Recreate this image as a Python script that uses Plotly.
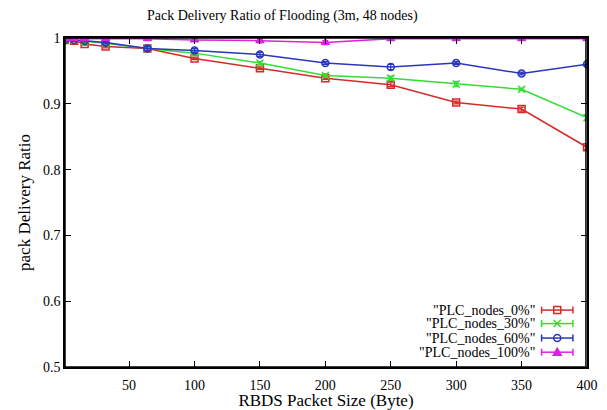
import plotly.graph_objects as go

x = [1, 8, 16, 32, 64, 100, 150, 200, 250, 300, 350, 400]
names = ['"PLC_nodes_0%"', '"PLC_nodes_30%"', '"PLC_nodes_60%"', '"PLC_nodes_100%"']
y0 = [0.997, 0.996, 0.991, 0.987, 0.984, 0.969, 0.954, 0.939, 0.929, 0.902, 0.892, 0.834]
y30 = [0.996, 0.997, 0.995, 0.992, 0.984, 0.977, 0.962, 0.943, 0.939, 0.930, 0.922, 0.879]
y60 = [0.997, 0.997, 0.996, 0.993, 0.984, 0.981, 0.975, 0.962, 0.956, 0.962, 0.946, 0.960]
y100 = [0.999, 0.999, 0.999, 0.999, 0.999, 0.997, 0.996, 0.993, 0.999, 0.999, 0.999, 0.999]
e0 = [0.002, 0.002, 0.002, 0.002, 0.002, 0.002, 0.002, 0.002, 0.003, 0.002, 0.003, 0.003]
e30 = [0.002, 0.002, 0.002, 0.002, 0.002, 0.002, 0.002, 0.003, 0.003, 0.004, 0.002, 0.004]
e60 = [0.002, 0.002, 0.002, 0.002, 0.003, 0.003, 0.003, 0.002, 0.004, 0.002, 0.002, 0.002]
e100 = [0.001, 0.001, 0.001, 0.001, 0.001, 0.002, 0.003, 0.003, 0.002, 0.002, 0.002, 0.001]

colors = ["#d42a2a", "#33dd33", "#2a35c0", "#dd22dd"]
symbols = ["square-open", "x-thin-open", "circle-open", "triangle-up"]
series = [y0, y30, y60, y100]
errs = [e0, e30, e60, e100]

fig = go.Figure()
for nm, ys, es, c, s in zip(names, series, errs, colors, symbols):
    fig.add_trace(go.Scatter(
        x=x, y=ys, mode="lines+markers", name=nm,
        line=dict(color=c, width=1.5),
        marker=dict(symbol=s, size=7, color=c, line=dict(color=c, width=1.5)),
        error_y=dict(type="data", array=es, visible=True, color=c, thickness=1.2, width=3),
        showlegend=False,
    ))

# gnuplot-style key: right-aligned text, sample (errorbar line + point) to its right
leg_y = [0.173, 0.132, 0.088, 0.045]
kx0, kx1, kxc, ktext = 0.913, 0.973, 0.943, 0.905
for i, (nm, ly, c) in enumerate(zip(names, leg_y, colors)):
    fig.add_annotation(x=ktext, y=ly, xref="paper", yref="paper", text=nm, showarrow=False,
                       xanchor="right", yanchor="middle",
                       font=dict(family="Liberation Serif", size=14, color="black"))
    ln = dict(color=c, width=1.5)
    fig.add_shape(type="line", xref="paper", yref="paper", x0=kx0, x1=kx1, y0=ly, y1=ly, line=ln)
    for xe in (kx0, kx1):
        fig.add_shape(type="line", xref="paper", yref="paper", x0=xe, x1=xe,
                      ysizemode="pixel", yanchor=ly, y0=-3.5, y1=3.5, line=ln)
    common = dict(xref="paper", yref="paper", xsizemode="pixel", ysizemode="pixel",
                  xanchor=kxc, yanchor=ly, line=ln)
    if i == 0:
        fig.add_shape(type="rect", x0=-3.5, x1=3.5, y0=-3.5, y1=3.5, **common)
    elif i == 1:
        fig.add_shape(type="line", x0=-3.5, x1=3.5, y0=-3.5, y1=3.5, **common)
        fig.add_shape(type="line", x0=-3.5, x1=3.5, y0=3.5, y1=-3.5, **common)
    elif i == 2:
        fig.add_shape(type="circle", x0=-3.5, x1=3.5, y0=-3.5, y1=3.5, **common)
    else:
        fig.add_shape(type="path", path="M -4,-3 L 4,-3 L 0,4 Z", fillcolor=c, **common)

# plot border (gnuplot box)
fig.add_shape(type="rect", xref="paper", yref="paper", x0=0, x1=0.998, y0=0, y1=1,
              line=dict(color="black", width=1.5), layer="above")

fig.update_layout(
    template="none",
    width=607, height=410,
    margin=dict(l=65, r=20, t=38, b=43, autoexpand=False),
    paper_bgcolor="white", plot_bgcolor="white",
    font=dict(family="Liberation Serif", size=14, color="black"),
    title=dict(text="Pack Delivery Ratio of Flooding (3m, 48 nodes)", x=0.465, xanchor="center",
               y=0.963, yanchor="middle", font=dict(size=14)),
    xaxis=dict(range=[1, 400], tickvals=[50, 100, 150, 200, 250, 300, 350, 400],
               automargin=False, ticklabelstandoff=4,
               showline=True, linecolor="black", linewidth=1.5, mirror="ticks",
               ticks="inside", ticklen=6, tickcolor="black", showgrid=False, zeroline=False,
               title=dict(text="RBDS Packet Size (Byte)", standoff=2)),
    yaxis=dict(range=[0.5, 1.0], dtick=0.1, tick0=0.5, automargin=False,
               showline=True, linecolor="black", linewidth=1.5, mirror="ticks",
               ticks="inside", ticklen=6, tickcolor="black", showgrid=False, zeroline=False,
               title=dict(text="pack Delivery Ratio", standoff=8)),
)

fig.write_html("out.html", config={"displayModeBar": False},
               post_script="document.body.style.margin='0';document.body.style.overflow='hidden';")
